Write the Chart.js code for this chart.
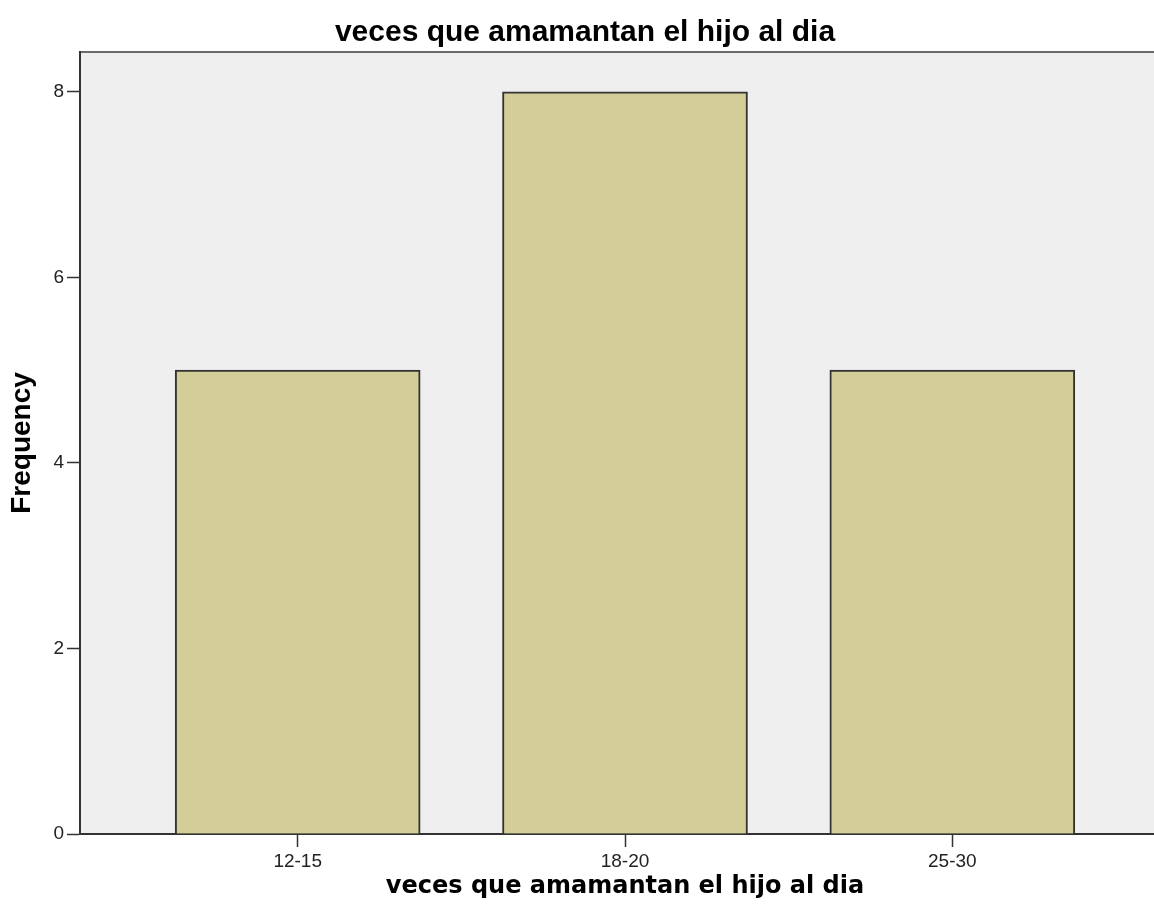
<!DOCTYPE html>
<html>
<head>
<meta charset="utf-8">
<script src="https://cdn.jsdelivr.net/npm/chart.js@4/dist/chart.umd.min.js"></script>
<style>
    html, body { margin: 0; padding: 0; background: #fff; overflow: hidden; }
    #wrap { width: 1170px; height: 923px; position: relative; }
</style>
</head>
<body>
<div id="wrap"><canvas id="chart1"></canvas></div>
<script>
const categories = ["12-15", "18-20", "25-30"];
const frequency = [5, 8, 5];
const yTicks = [0, 2, 4, 6, 8];
const chartTitle = "veces que amamantan el hijo al dia";

document.addEventListener("DOMContentLoaded", function () {
    // plot frame: grey panel + top border line
    const panel = {
        id: "panel",
        beforeDraw(chart) {
            const a = chart.chartArea;
            const ctx = chart.ctx;
            ctx.save();
            ctx.fillStyle = "#efefef";
            ctx.fillRect(a.left, a.top, a.right - a.left, a.bottom - a.top);
            ctx.strokeStyle = "#6a6a6a";
            ctx.lineWidth = 2;
            ctx.beginPath();
            ctx.moveTo(a.left, a.top);
            ctx.lineTo(a.right, a.top);
            ctx.stroke();
            ctx.restore();
        }
    };

    let ctx1 = document.getElementById("chart1").getContext("2d");
    new Chart(ctx1, {
        type: "bar",
        data: {
            datasets: [{
                label: "Frequency",
                data: frequency.map((f, i) => ({ x: i + 1, y: f })),
                backgroundColor: "#d3ce98",
                borderColor: "#333333",
                borderWidth: 2,
                barThickness: 245
            }]
        },
        plugins: [panel],
        options: {
            responsive: true,
            maintainAspectRatio: false,
            animation: false,
            layout: { padding: 0 },
            plugins: {
                legend: { display: false },
                tooltip: { enabled: false },
                title: {
                    display: true,
                    text: chartTitle,
                    color: "#000",
                    font: { family: "Liberation Sans, Arial", size: 30, weight: "bold" },
                    padding: { top: 15, bottom: 1 }
                }
            },
            scales: {
                x: {
                    type: "linear",
                    min: 0.335,
                    max: 3.665,
                    offset: false,
                    afterFit: s => { s.height = 89; },
                    afterBuildTicks: s => { s.ticks = categories.map((c, i) => ({ value: i + 1 })); },
                    grid: { offset: false, drawOnChartArea: false, tickLength: 13, tickColor: "#333", tickWidth: 1.5 },
                    border: { color: "#333", width: 2 },
                    ticks: {
                        color: "#222",
                        padding: 3,
                        maxRotation: 0,
                        autoSkip: false,
                        font: { family: "Liberation Sans, Arial", size: 19 },
                        callback: v => categories[v - 1]
                    },
                    title: {
                        display: true,
                        text: chartTitle,
                        color: "#000",
                        font: { family: "DejaVu Sans, Verdana", size: 24, weight: "bold" },
                        padding: { top: 0, bottom: 22 }
                    }
                },
                y: {
                    min: 0,
                    max: 8.43,
                    afterFit: s => { s.width = 80; },
                    afterBuildTicks: s => { s.ticks = yTicks.map(v => ({ value: v })); },
                    grid: { drawOnChartArea: false, tickLength: 13, tickColor: "#333", tickWidth: 1.5 },
                    border: { color: "#333", width: 2 },
                    ticks: {
                        color: "#222",
                        padding: 3,
                        font: { family: "Liberation Sans, Arial", size: 19 }
                    },
                    title: {
                        display: true,
                        text: "Frequency",
                        color: "#000",
                        font: { family: "Liberation Sans, Arial", size: 28, weight: "bold" },
                        padding: { top: 5, bottom: 0 }
                    }
                }
            }
        }
    });
});
</script>
</body>
</html>
